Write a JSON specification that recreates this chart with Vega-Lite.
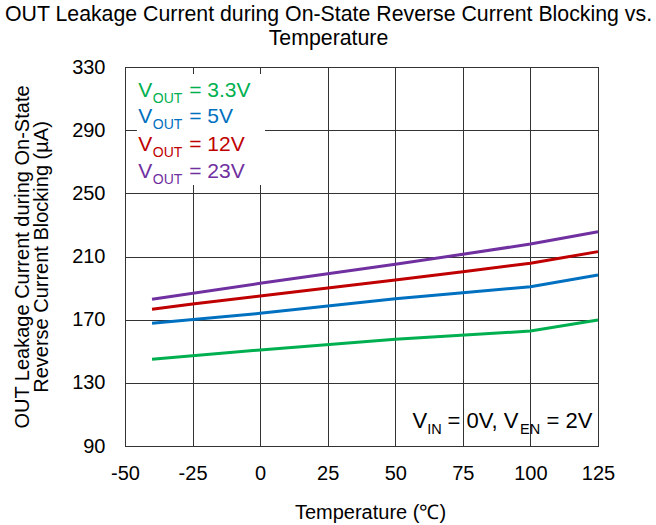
{
  "$schema": "https://vega.github.io/schema/vega-lite/v6.json",
  "width": 473,
  "height": 379,
  "autosize": "none",
  "padding": {"left": 125, "top": 67, "right": 58, "bottom": 79},
  "background": "white",
  "title": {
    "text": ["OUT Leakage Current during On-State Reverse Current Blocking vs.", "Temperature"],
    "font": "Liberation Sans",
    "fontSize": 21.3,
    "fontWeight": "normal",
    "color": "black",
    "anchor": "middle",
    "dx": -33,
    "offset": 8,
    "lineHeight": 24
  },
  "config": {
    "view": {"stroke": "black", "strokeWidth": 1},
    "axis": {
      "labelFont": "Liberation Sans",
      "labelFontSize": 20,
      "labelColor": "black",
      "titleFont": "Liberation Sans",
      "titleFontSize": 20,
      "titleFontWeight": "normal",
      "titleColor": "black",
      "gridColor": "#333333",
      "gridOpacity": 1,
      "gridWidth": 1,
      "domain": false,
      "ticks": false,
      "labelFlush": false
    }
  },
  "datasets": {
    "curves": [
      {"series": "3.3V", "temp": -40, "current": 144.9},
      {"series": "3.3V", "temp": 0, "current": 150.8},
      {"series": "3.3V", "temp": 50, "current": 157.6},
      {"series": "3.3V", "temp": 100, "current": 162.8},
      {"series": "3.3V", "temp": 125, "current": 169.8},
      {"series": "5V", "temp": -40, "current": 167.7},
      {"series": "5V", "temp": 0, "current": 174.0},
      {"series": "5V", "temp": 50, "current": 183.3},
      {"series": "5V", "temp": 75, "current": 187.1},
      {"series": "5V", "temp": 100, "current": 190.9},
      {"series": "5V", "temp": 125, "current": 198.3},
      {"series": "12V", "temp": -40, "current": 176.6},
      {"series": "12V", "temp": -25, "current": 179.9},
      {"series": "12V", "temp": 0, "current": 185.0},
      {"series": "12V", "temp": 50, "current": 195.1},
      {"series": "12V", "temp": 75, "current": 200.4},
      {"series": "12V", "temp": 100, "current": 205.7},
      {"series": "12V", "temp": 125, "current": 213.1},
      {"series": "23V", "temp": -40, "current": 182.9},
      {"series": "23V", "temp": 0, "current": 193.0},
      {"series": "23V", "temp": 50, "current": 205.1},
      {"series": "23V", "temp": 75, "current": 211.4},
      {"series": "23V", "temp": 100, "current": 217.9},
      {"series": "23V", "temp": 125, "current": 225.7}
    ],
    "legendRows": [
      {"series": "3.3V", "label": "= 3.3V", "temp": -45.1, "current": 311.2},
      {"series": "5V", "label": "= 5V", "temp": -45.1, "current": 294.4},
      {"series": "12V", "label": "= 12V", "temp": -45.1, "current": 276.8},
      {"series": "23V", "label": "= 23V", "temp": -45.1, "current": 259.5}
    ],
    "legendBox": [
      {"t1": -45.6, "t2": 1.8, "c1": 255.3, "c2": 325.6}
    ],
    "note": [
      {"temp": 56.4, "current": 101.6}
    ]
  },
  "layer": [
    {
      "data": {"name": "legendBox"},
      "mark": {"type": "rect", "fill": "white"},
      "encoding": {
        "x": {"field": "t1", "type": "quantitative", "scale": {"domain": [-50, 125]}},
        "x2": {"field": "t2"},
        "y": {"field": "c1", "type": "quantitative", "scale": {"domain": [90, 330]}},
        "y2": {"field": "c2"}
      }
    },
    {
      "data": {"name": "curves"},
      "mark": {"type": "line", "strokeWidth": 3},
      "encoding": {
        "x": {
          "field": "temp", "type": "quantitative",
          "scale": {"domain": [-50, 125], "nice": false, "zero": false},
          "axis": {"values": [-50, -25, 0, 25, 50, 75, 100, 125], "labelExpr": "datum.value + ''", "title": "Temperature (℃)", "labelPadding": 17, "titlePadding": 19, "titleX": 245}
        },
        "y": {
          "field": "current", "type": "quantitative",
          "scale": {"domain": [90, 330], "nice": false, "zero": false},
          "axis": {"values": [90, 130, 170, 210, 250, 290, 330], "title": ["OUT Leakage Current during On-State", "Reverse Current Blocking (µA)"], "labelPadding": 20, "titlePadding": 20, "titleLineHeight": 19}
        },
        "color": {
          "field": "series", "type": "nominal",
          "scale": {"domain": ["3.3V", "5V", "12V", "23V"], "range": ["#00B050", "#0070C0", "#C00000", "#7030A0"]},
          "legend": null
        }
      }
    },
    {
      "data": {"name": "legendRows"},
      "mark": {"type": "text", "text": "V", "align": "left", "baseline": "alphabetic", "font": "Liberation Sans", "fontSize": 21},
      "encoding": {
        "x": {"field": "temp", "type": "quantitative"},
        "y": {"field": "current", "type": "quantitative"},
        "color": {"field": "series", "type": "nominal", "legend": null}
      }
    },
    {
      "data": {"name": "legendRows"},
      "mark": {"type": "text", "text": "OUT", "align": "left", "baseline": "alphabetic", "font": "Liberation Sans", "fontSize": 14, "dx": 14.5, "dy": 6},
      "encoding": {
        "x": {"field": "temp", "type": "quantitative"},
        "y": {"field": "current", "type": "quantitative"},
        "color": {"field": "series", "type": "nominal", "legend": null}
      }
    },
    {
      "data": {"name": "legendRows"},
      "mark": {"type": "text", "align": "left", "baseline": "alphabetic", "font": "Liberation Sans", "fontSize": 21, "dx": 51},
      "encoding": {
        "x": {"field": "temp", "type": "quantitative"},
        "y": {"field": "current", "type": "quantitative"},
        "text": {"field": "label"},
        "color": {"field": "series", "type": "nominal", "legend": null}
      }
    },
    {
      "data": {"name": "note"},
      "mark": {"type": "text", "text": "V", "align": "left", "baseline": "alphabetic", "font": "Liberation Sans", "fontSize": 22, "color": "black"},
      "encoding": {
        "x": {"field": "temp", "type": "quantitative"},
        "y": {"field": "current", "type": "quantitative"}
      }
    },
    {
      "data": {"name": "note"},
      "mark": {"type": "text", "text": "IN", "align": "left", "baseline": "alphabetic", "font": "Liberation Sans", "fontSize": 14.5, "dx": 14.7, "dy": 6, "color": "black"},
      "encoding": {
        "x": {"field": "temp", "type": "quantitative"},
        "y": {"field": "current", "type": "quantitative"}
      }
    },
    {
      "data": {"name": "note"},
      "mark": {"type": "text", "text": "= 0V, V", "align": "left", "baseline": "alphabetic", "font": "Liberation Sans", "fontSize": 22, "dx": 35, "color": "black"},
      "encoding": {
        "x": {"field": "temp", "type": "quantitative"},
        "y": {"field": "current", "type": "quantitative"}
      }
    },
    {
      "data": {"name": "note"},
      "mark": {"type": "text", "text": "EN", "align": "left", "baseline": "alphabetic", "font": "Liberation Sans", "fontSize": 14.5, "dx": 107.5, "dy": 6, "color": "black"},
      "encoding": {
        "x": {"field": "temp", "type": "quantitative"},
        "y": {"field": "current", "type": "quantitative"}
      }
    },
    {
      "data": {"name": "note"},
      "mark": {"type": "text", "text": "= 2V", "align": "left", "baseline": "alphabetic", "font": "Liberation Sans", "fontSize": 22, "dx": 134, "color": "black"},
      "encoding": {
        "x": {"field": "temp", "type": "quantitative"},
        "y": {"field": "current", "type": "quantitative"}
      }
    }
  ]
}
